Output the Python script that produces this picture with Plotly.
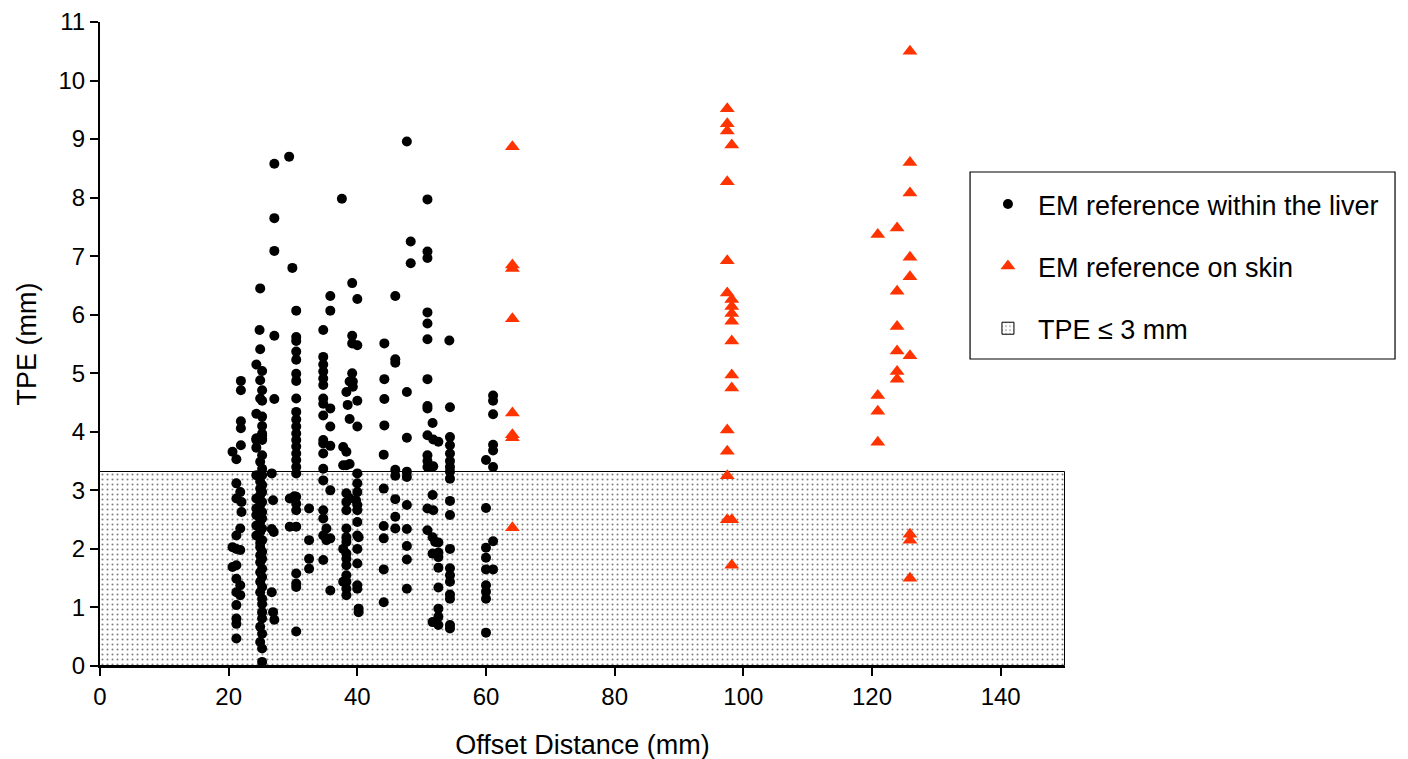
import plotly.graph_objects as go

# ---- EM reference within the liver (black dots) ----
liver_x = [
    # ~21 mm
    21.9, 21.9, 21.9, 21.9, 21.9, 20.6, 21.2, 21.2, 21.8, 21.2, 22.0, 22.0, 21.8, 21.2, 20.6, 21.2,
    21.8, 21.2, 20.6, 21.2, 21.8, 21.2, 21.8, 21.2, 21.2, 21.2, 21.2,
    # ~25 mm
    24.9, 24.8, 24.9, 24.3, 25.2, 24.9, 25.2, 24.9, 25.2, 24.3, 25.2, 25.2, 25.2, 24.3, 25.2,
    25.2, 24.3, 25.2, 24.3, 25.2, 24.9, 25.2, 24.3, 25.2, 24.9, 25.2, 24.9, 25.2, 24.9, 24.3,
    25.2, 24.9, 24.3, 25.2, 24.9, 24.3, 25.2, 24.9, 24.3, 25.2, 24.9, 24.3, 25.2, 24.9, 24.9,
    25.2, 24.9, 25.2, 24.9, 25.2, 24.9, 25.2, 24.9, 25.2, 24.9, 25.2, 25.2, 25.2,
    25.2, 24.9, 25.2, 24.9, 25.2, 25.2,
    # ~27 mm
    27.1, 27.1, 27.1, 27.1, 27.1, 26.7, 26.9, 26.7, 27.0, 26.7, 26.9, 27.1,
    # ~29-30.5 mm
    29.4, 29.9, 30.5, 30.5, 30.5, 30.5, 30.5, 30.5, 30.5, 30.5, 30.5, 30.5, 30.5, 30.5, 30.5,
    30.5, 30.5, 30.5, 30.5, 30.5, 30.5, 30.2, 30.5, 30.5, 29.5, 29.5, 30.5, 30.5, 30.5, 30.5, 30.5,
    # ~32.5 mm
    32.5, 32.5, 32.5, 32.5,
    # ~35 mm
    35.8, 35.8, 34.7, 34.7, 34.7, 34.7, 34.7, 34.7, 34.7, 34.7, 35.8, 34.7, 35.8, 34.7, 34.7,
    35.8, 34.7, 34.7, 34.7, 35.8, 34.7, 34.7, 35.2, 34.7, 35.2, 35.8, 34.7, 35.8,
    # ~38-40 mm
    37.6, 39.2, 40.0, 39.2, 39.2, 40.0, 39.2, 38.8, 39.3, 39.3, 38.3, 38.5, 40.0, 38.8, 40.0,
    37.8, 38.3, 37.8, 38.3, 38.8, 40.0, 40.0, 40.0, 39.8, 40.0, 40.0, 40.0, 40.0, 40.2, 40.0,
    40.0, 40.0, 40.0, 40.2, 40.2, 38.3, 38.8, 38.3, 38.3, 38.3, 38.3, 38.3, 38.3, 38.3, 38.3,
    38.3, 38.3, 38.3, 38.3, 37.8, 37.8,
    # ~44 mm
    44.2, 44.2, 44.2, 44.2, 44.1, 44.1, 44.1, 44.1, 44.1, 44.1,
    # ~46 mm
    45.9, 45.9, 45.9, 45.9, 45.9, 45.9, 45.9, 45.9,
    # ~48 mm
    47.7, 48.3, 48.3, 47.7, 47.7, 47.7, 47.7, 47.7, 47.7, 47.7, 47.7, 47.7,
    # ~51-52 mm
    50.9, 50.9, 50.9, 50.9, 50.9, 50.9, 50.9, 50.9, 50.9, 51.7, 50.9, 51.8, 52.6, 50.9, 50.9,
    50.9, 51.8, 51.7, 50.9, 51.8, 50.9, 51.7, 52.1, 52.6, 51.7, 52.6, 52.6, 52.6, 52.6, 52.6,
    52.6, 51.7, 52.6,
    # ~54 mm
    54.3, 54.4, 54.4, 54.4, 54.4, 54.4, 54.4, 54.4, 54.4, 54.4, 54.4, 54.4, 54.4, 54.4, 54.4,
    54.4, 54.4, 54.4, 54.4,
    # ~60-61 mm
    61.1, 61.1, 61.1, 61.1, 61.1, 60.0, 61.1, 60.0, 61.1, 60.0, 60.0, 60.0, 61.1, 60.0, 60.0,
    60.0, 60.0,
]
liver_y = [
    # ~21 mm
    4.87, 4.71, 4.18, 4.06, 3.77, 3.66, 3.53, 3.12, 2.97, 2.86, 2.80, 2.63, 2.35, 2.23, 2.03, 2.00,
    1.98, 1.72, 1.69, 1.49, 1.38, 1.26, 1.21, 1.04, 0.81, 0.72, 0.47,
    # ~25 mm
    6.45, 5.74, 5.41, 5.15, 5.04, 4.88, 4.71, 4.57, 4.53, 4.31, 4.26, 4.10, 3.97, 3.89, 3.89,
    3.94, 3.86, 3.86, 3.73, 3.60, 3.49, 3.37, 3.26, 3.26, 3.15, 3.09, 3.03, 2.97, 2.92, 2.86,
    2.80, 2.75, 2.69, 2.63, 2.58, 2.58, 2.52, 2.46, 2.40, 2.35, 2.29, 2.23, 2.15, 2.10, 2.03,
    1.95, 1.89, 1.83, 1.77, 1.66, 1.60, 1.52, 1.44, 1.35, 1.26, 1.15, 1.06, 0.92,
    0.81, 0.67, 0.55, 0.41, 0.30, 0.07,
    # ~27 mm
    8.58, 7.65, 7.09, 5.64, 4.56, 3.29, 2.83, 2.34, 2.29, 1.26, 0.92, 0.79,
    # ~29-30.5 mm
    8.70, 6.80, 6.07, 5.62, 5.55, 5.37, 5.23, 4.99, 4.87, 4.57, 4.34, 4.21, 4.09, 3.97, 3.86,
    3.75, 3.63, 3.52, 3.40, 3.29, 2.89, 2.90, 2.77, 2.66, 2.86, 2.38, 2.38, 1.58, 1.41, 1.35, 0.59,
    # ~32.5 mm
    2.69, 2.15, 1.83, 1.66,
    # ~35 mm
    6.32, 6.07, 5.74, 5.28, 5.15, 5.03, 4.91, 4.80, 4.57, 4.48, 4.40, 4.28, 4.09, 3.86, 3.80,
    3.76, 3.63, 3.37, 3.17, 3.00, 2.66, 2.52, 2.35, 2.23, 2.15, 2.18, 1.81, 1.29,
    # ~38-40 mm
    7.98, 6.54, 6.27, 5.64, 5.51, 5.48, 5.00, 4.86, 4.86, 4.77, 4.68, 4.46, 4.53, 4.22, 4.09,
    3.74, 3.66, 3.43, 3.43, 3.45, 3.29, 3.12, 2.97, 2.83, 2.75, 2.66, 2.46, 2.23, 2.20, 2.00,
    1.75, 1.38, 1.32, 0.98, 0.92, 2.95, 2.86, 2.80, 2.66, 2.35, 2.20, 2.12, 1.92, 1.83, 1.72,
    1.55, 1.44, 1.32, 1.21, 2.00, 1.44,
    # ~44 mm
    5.51, 4.90, 4.56, 4.11, 3.61, 3.03, 2.39, 2.18, 1.65, 1.09,
    # ~46 mm
    6.32, 5.24, 5.18, 3.35, 3.25, 2.85, 2.55, 2.35,
    # ~48 mm
    8.96, 7.25, 6.88, 4.68, 3.90, 3.32, 3.23, 2.75, 2.34, 2.05, 1.82, 1.32,
    # ~51-52 mm
    7.97, 7.08, 6.97, 6.04, 5.85, 5.58, 4.90, 4.44, 4.40, 4.15, 3.94, 3.87, 3.83, 3.60, 3.50,
    3.40, 3.41, 2.92, 2.69, 2.66, 2.32, 2.20, 2.12, 2.11, 1.92, 1.94, 1.86, 1.68, 1.34, 0.98,
    0.84, 0.75, 0.70,
    # ~54 mm
    5.56, 4.42, 3.91, 3.77, 3.63, 3.50, 3.40, 3.32, 3.20, 2.82, 2.58, 2.00, 1.67, 1.55, 1.44,
    1.22, 1.15, 0.70, 0.64,
    # ~60-61 mm
    4.62, 4.53, 4.30, 3.78, 3.68, 3.52, 3.40, 2.70, 2.13, 2.02, 1.85, 1.65, 1.65, 1.38, 1.27,
    1.15, 0.57,
]

# ---- EM reference on skin (red triangles) ----
skin_x = [
    64.1, 64.1, 64.1, 64.1, 64.1, 64.1, 64.1, 64.1,
    97.5, 97.5, 97.5, 97.5, 97.5, 97.5, 97.5, 97.5, 97.5, 97.5,
    98.2, 98.2, 98.2, 98.2, 98.2, 98.2, 98.2, 98.2, 98.2, 98.2,
    120.9, 120.9, 120.9, 120.9,
    123.9, 123.9, 123.9, 123.9, 123.9, 123.9,
    125.9, 125.9, 125.9, 125.9, 125.9, 125.9, 125.9, 125.9, 125.9,
]
skin_y = [
    8.87, 6.85, 6.79, 5.93, 4.32, 3.95, 3.90, 2.36,
    9.52, 9.26, 9.14, 8.27, 6.92, 6.37, 4.03, 3.67, 3.25, 2.50,
    8.90, 6.26, 6.14, 6.02, 5.89, 5.55, 4.97, 4.75, 2.50, 1.72,
    7.37, 4.62, 4.35, 3.82,
    7.48, 6.40, 5.80, 5.38, 5.03, 4.90,
    10.50, 8.60, 8.08, 6.98, 6.65, 5.30, 2.25, 2.15, 1.50,
]

# ---- TPE threshold band ----
band_x_start = 0
band_x_end = 150
band_top = 3.32

x_ticks = [0, 20, 40, 60, 80, 100, 120, 140]
y_ticks = list(range(0, 12))

FONT = "Liberation Sans, Arial, Helvetica, sans-serif"

fig = go.Figure()

fig.add_trace(go.Scatter(
    x=liver_x, y=liver_y, mode="markers",
    name="EM reference within the liver",
    legendgroup="g1", legendrank=1,
    marker=dict(symbol="circle", size=10, color="black"),
))
fig.add_trace(go.Scatter(
    x=skin_x, y=skin_y, mode="markers",
    name="EM reference on skin",
    legendgroup="g2", legendrank=2,
    marker=dict(symbol="triangle-up", size=13, color="#FF3300"),
))
fig.add_trace(go.Bar(
    x=[(band_x_start + band_x_end) / 2], y=[band_top], base=[0],
    width=[band_x_end - band_x_start],
    name="TPE \u2264 3 mm",
    legendgroup="g3", legendrank=3,
    marker=dict(
        color="white",
        line=dict(color="black", width=1),
        pattern=dict(shape=".", fgcolor="black", bgcolor="white", size=5, solidity=0.13),
    ),
))

# legend frame drawn as a paper-anchored rectangle
fig.add_shape(
    type="rect", xref="paper", yref="paper",
    x0=0.9016, x1=1.342, y0=0.4767, y1=0.7671,
    line=dict(color="black", width=1.2), fillcolor="rgba(0,0,0,0)",
    layer="above",
)

# page body has an 8px default margin: figure is sized so the plot area lands near 100..1065 x 22..666
fig.update_layout(
    width=1400, height=753,
    margin=dict(l=92, r=343, t=14, b=95),
    paper_bgcolor="white", plot_bgcolor="white",
    font=dict(family=FONT, size=24, color="black"),
    showlegend=True,
    legend=dict(
        x=0.9098, y=0.7547, xanchor="left", yanchor="top",
        borderwidth=0, bgcolor="rgba(0,0,0,0)",
        font=dict(family=FONT, size=27, color="black"),
        traceorder="grouped",
        tracegroupgap=24,
        itemwidth=50,
    ),
    bargap=0,
)
fig.update_xaxes(
    range=[0, 150], tickvals=x_ticks, showgrid=False, zeroline=False,
    showline=True, linecolor="black", linewidth=2,
    ticks="outside", ticklen=8, tickwidth=2, tickcolor="black",
    tickfont=dict(size=24), automargin=False,
    title=dict(text="Offset Distance (mm)", font=dict(size=27), standoff=26),
)
fig.update_yaxes(
    range=[0, 11], tickvals=y_ticks, showgrid=False, zeroline=False,
    showline=True, linecolor="black", linewidth=2,
    ticks="outside", ticklen=8, tickwidth=2, tickcolor="black",
    tickfont=dict(size=24), automargin=False, ticklabeloverflow="allow",
    title=dict(text="TPE (mm)", font=dict(size=27), standoff=14),
)

fig.write_html("out.html")
